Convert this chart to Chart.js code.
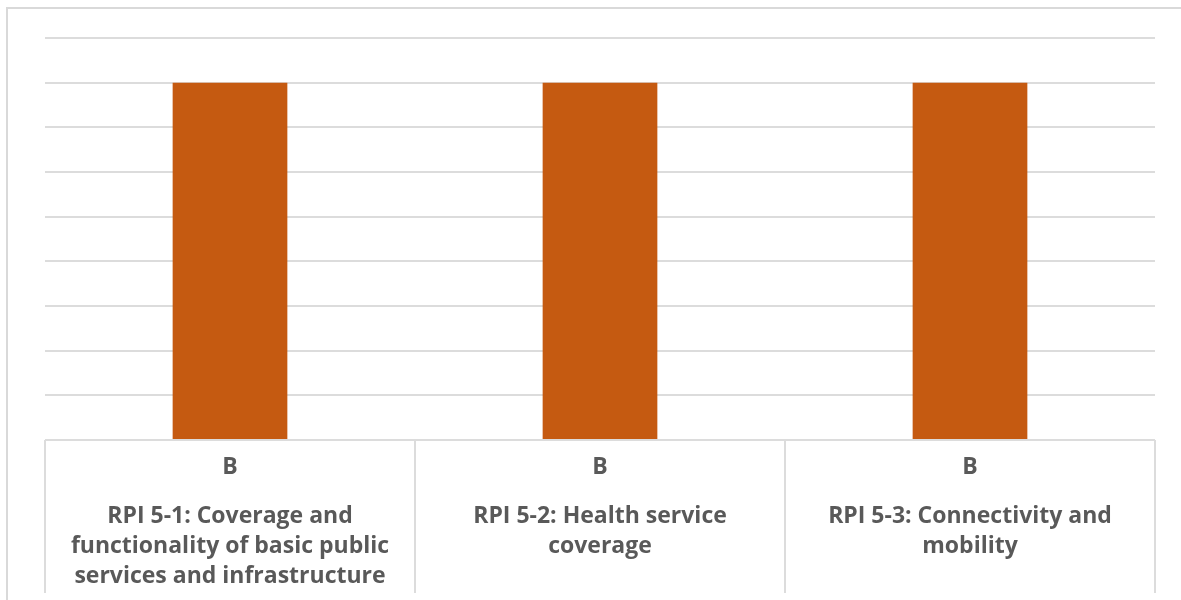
<!DOCTYPE html>
<html>
<head>
<meta charset="utf-8">
<script src="https://cdn.jsdelivr.net/npm/chart.js@4.4.1/dist/chart.umd.min.js"></script>
<style>
    body { margin: 0; background: #fff; }
    #wrap { position: relative; width: 1181px; height: 600px; overflow: hidden; }
    #frame { position: absolute; left: 6px; top: 7px; width: 1300px; height: 700px; border: 2px solid #d9d9d9; }
    #chart1 { position: absolute; left: 0; top: 0; }
</style>
</head>
<body>
<div id="wrap">
    <div id="frame"></div>
    <canvas id="chart1" width="1181" height="600"></canvas>
</div>
<script>
// 등급 / 지표
const categories = [
    ["RPI 5-1: Coverage and", "functionality of basic public", "services and infrastructure"],
    ["RPI 5-2: Health service", "coverage"],
    ["RPI 5-3: Connectivity and", "mobility"]
];
const grades = ["B", "B", "B"];
const values = [8, 8, 8];
const yMax = 9;

const textColor = "#595959";
const lineColor = "#dcdcdc";
const labelFont = "Open Sans";

// 표 아래 세로 구분선
const tableLines = {
    id: "tableLines",
    afterDraw(chart) {
        const x = chart.scales.x;
        const c = chart.ctx;
        const step = (x.getPixelForValue(1) - x.getPixelForValue(0));
        c.save();
        c.strokeStyle = lineColor;
        c.lineWidth = 2;
        for (let i = 0; i <= grades.length; i++) {
            const px = x.getPixelForValue(0) - step / 2 + step * i;
            c.beginPath();
            c.moveTo(px, chart.chartArea.bottom);
            c.lineTo(px, 593);
            c.stroke();
        }
        c.restore();
    }
};

new Chart(document.getElementById("chart1"), {
    type: "bar",
    data: {
        labels: grades,
        datasets: [
            {
                label: "Grade",
                data: values,
                backgroundColor: "#C55A11",
                barPercentage: 0.31,
                categoryPercentage: 1
            }
        ]
    },
    options: {
        responsive: false,
        animation: false,
        layout: {
            padding: { left: 45, right: 26, top: 38, bottom: 0 }
        },
        plugins: {
            legend: { display: false },
            tooltip: { enabled: false }
        },
        scales: {
            y: {
                min: 0,
                max: yMax,
                ticks: { display: false, stepSize: 1 },
                grid: { color: lineColor, lineWidth: 2, drawTicks: false },
                border: { display: false }
            },
            x: {
                weight: 0,
                grid: { display: false, drawTicks: false },
                border: { display: false },
                afterFit: s => { s.height = 48; },
                ticks: {
                    color: textColor,
                    padding: 14,
                    maxRotation: 0,
                    font: { family: labelFont, size: 23, weight: "bold", lineHeight: 1.2 }
                }
            },
            x2: {
                type: "category",
                position: "bottom",
                weight: 1,
                labels: categories,
                offset: true,
                grid: { display: false, drawTicks: false },
                border: { display: false },
                afterFit: s => { s.height = 112; },
                ticks: {
                    color: textColor,
                    padding: 13,
                    maxRotation: 0,
                    autoSkip: false,
                    font: { family: labelFont, size: 23, weight: "bold", lineHeight: 30 / 23 }
                }
            }
        }
    },
    plugins: [tableLines]
});
</script>
</body>
</html>
